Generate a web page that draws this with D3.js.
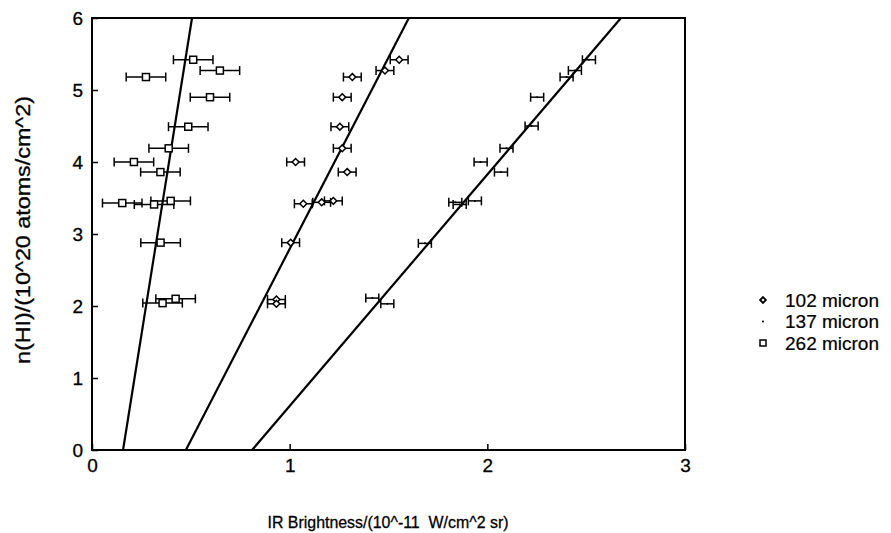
<!DOCTYPE html>
<html>
<head>
<meta charset="utf-8">
<script src="https://cdn.jsdelivr.net/npm/d3@7"></script>
<style>
  body { margin: 0; background: #fff; }
  svg { display: block; font-family: 'Liberation Sans', Arial, sans-serif; }
  text { white-space: pre; }
</style>
</head>
<body>
<svg id="chart" width="891" height="533"></svg>
<script>
// ------------------
// Data
// ------------------
const xTicks = [0, 1, 2, 3]
const yTicks = [0, 1, 2, 3, 4, 5, 6]

// 262 micron (open squares)
const ir262 = [0.512, 0.647, 0.273, 0.597, 0.487, 0.388, 0.212, 0.346, 0.153, 0.314, 0.398, 0.347, 0.423, 0.357]
const hi262 = [5.42, 5.27, 5.18, 4.90, 4.49, 4.19, 4.00, 3.86, 3.43, 3.41, 3.46, 2.88, 2.10, 2.04]
const err262 = 0.10

// 102 micron (open diamonds)
const ir102 = [1.554, 1.482, 1.317, 1.266, 1.254, 1.266, 1.030, 1.291, 1.069, 1.162, 1.221, 1.005, 0.933, 0.933]
const hi102 = [5.42, 5.27, 5.18, 4.90, 4.49, 4.19, 4.00, 3.86, 3.42, 3.44, 3.46, 2.88, 2.09, 2.03]
const err102 = 0.045

// 137 micron (dots)
const ir137 = [2.514, 2.443, 2.401, 2.252, 2.224, 2.097, 1.966, 2.069, 1.838, 1.860, 1.937, 1.684, 1.418, 1.494]
const hi137 = [5.42, 5.27, 5.18, 4.90, 4.50, 4.19, 4.00, 3.86, 3.44, 3.41, 3.46, 2.87, 2.11, 2.03]
const err137 = 0.033

// Fitted lines: [ir at n=0, n] -> [ir at n=6, n]
const fit262 = [[0.157, 0], [0.506, 6]]
const fit102 = [[0.475, 0], [1.603, 6]]
const fit137 = [[0.81, 0], [2.676, 6]]

const legendLabels = ['102 micron', '137 micron', '262 micron']

// ------------------
// Setup
// ------------------
const svg = d3.select('#chart')
const margin = { top: 18, left: 92 }
const innerWidth = 593
const innerHeight = 432

const g = svg.append('g')
  .attr('transform', `translate(${margin.left},${margin.top})`)

const x = d3.scaleLinear().domain([0, 3]).range([0, innerWidth])
const y = d3.scaleLinear().domain([0, 6]).range([innerHeight, 0])

// ------------------
// Axes (inward ticks)
// ------------------
const yAxis = g.append('g')
  .call(d3.axisLeft(y).tickValues(yTicks).tickSize(-6).tickPadding(9).tickFormat(d3.format('d')))
const xAxis = g.append('g')
  .attr('transform', `translate(0,${innerHeight})`)
  .call(d3.axisBottom(x).tickValues(xTicks).tickSize(-6).tickPadding(9).tickFormat(d3.format('d')))

;[xAxis, yAxis].forEach(a => {
  a.select('.domain').remove()
  a.selectAll('line').attr('stroke', '#000').attr('stroke-width', 1.5)
  a.selectAll('text')
    .attr('fill', '#000')
    .attr('stroke', '#000')
    .attr('stroke-width', 0.3)
    .attr('font-size', 19)
})

g.append('rect')
  .attr('width', innerWidth)
  .attr('height', innerHeight)
  .attr('fill', 'none')
  .attr('stroke', '#000')
  .attr('stroke-width', 2)

// ------------------
// Fit lines
// ------------------
const line = d3.line().x(d => x(d[0])).y(d => y(d[1]))
;[fit262, fit102, fit137].forEach(f => {
  g.append('path')
    .attr('d', line(f))
    .attr('fill', 'none')
    .attr('stroke', '#000')
    .attr('stroke-width', 2.2)
})

// ------------------
// Error bars + markers
// ------------------
function errorBars(xs, ys, err, cap) {
  const pts = xs.map((v, i) => ({ x: v, y: ys[i] }))
  const eb = g.append('g').attr('stroke', '#000').attr('stroke-width', 1.5)
  pts.forEach(p => {
    const cy = y(p.y)
    eb.append('line').attr('x1', x(p.x - err)).attr('x2', x(p.x + err)).attr('y1', cy).attr('y2', cy)
    eb.append('line').attr('x1', x(p.x - err)).attr('x2', x(p.x - err)).attr('y1', cy - cap).attr('y2', cy + cap)
    eb.append('line').attr('x1', x(p.x + err)).attr('x2', x(p.x + err)).attr('y1', cy - cap).attr('y2', cy + cap)
  })
  return pts
}

const sq = errorBars(ir262, hi262, err262, 4.5)
g.append('g').selectAll('rect')
  .data(sq)
  .join('rect')
  .attr('x', d => x(d.x) - 3.5)
  .attr('y', d => y(d.y) - 3.5)
  .attr('width', 7)
  .attr('height', 7)
  .attr('fill', '#fff')
  .attr('stroke', '#000')
  .attr('stroke-width', 1.5)

const dm = errorBars(ir102, hi102, err102, 4.5)
g.append('g').selectAll('path')
  .data(dm)
  .join('path')
  .attr('d', d3.symbol(d3.symbolDiamond2, 30))
  .attr('transform', d => `translate(${x(d.x)},${y(d.y)})`)
  .attr('fill', '#fff')
  .attr('stroke', '#000')
  .attr('stroke-width', 1.5)

const dt = errorBars(ir137, hi137, err137, 4.5)
g.append('g').selectAll('circle')
  .data(dt)
  .join('circle')
  .attr('cx', d => x(d.x))
  .attr('cy', d => y(d.y))
  .attr('r', 1)
  .attr('fill', '#000')

// ------------------
// Axis titles
// ------------------
svg.append('text')
  .attr('x', 388)
  .attr('y', 528)
  .attr('text-anchor', 'middle')
  .attr('font-size', 17)
  .attr('stroke', '#000')
  .attr('stroke-width', 0.3)
  .attr('textLength', 241)
  .attr('lengthAdjust', 'spacingAndGlyphs')
  .text('IR Brightness/(10^-11  W/cm^2 sr)')

svg.append('text')
  .attr('transform', 'translate(30,230) rotate(-90)')
  .attr('text-anchor', 'middle')
  .attr('font-size', 20)
  .attr('stroke', '#000')
  .attr('stroke-width', 0.3)
  .attr('textLength', 268)
  .attr('lengthAdjust', 'spacingAndGlyphs')
  .text('n(HI)/(10^20 atoms/cm^2)')

// ------------------
// Legend
// ------------------
const legend = svg.append('g').attr('transform', 'translate(763,300)')
legendLabels.forEach((lab, i) => {
  const row = legend.append('g').attr('transform', `translate(0,${i * 21.5})`)
  if (i === 0) {
    row.append('path').attr('d', d3.symbol(d3.symbolDiamond2, 22))
      .attr('fill', '#fff').attr('stroke', '#000').attr('stroke-width', 1.8)
  } else if (i === 1) {
    row.append('circle').attr('r', 1).attr('fill', '#000')
  } else {
    row.append('rect').attr('x', -3).attr('y', -3).attr('width', 6).attr('height', 6)
      .attr('fill', '#fff').attr('stroke', '#000').attr('stroke-width', 1.5)
  }
  row.append('text')
    .attr('x', 22)
    .attr('dy', '0.35em')
    .attr('font-size', 19)
    .attr('stroke', '#000')
    .attr('stroke-width', 0.2)
    .text(lab)
})
</script>
</body>
</html>
